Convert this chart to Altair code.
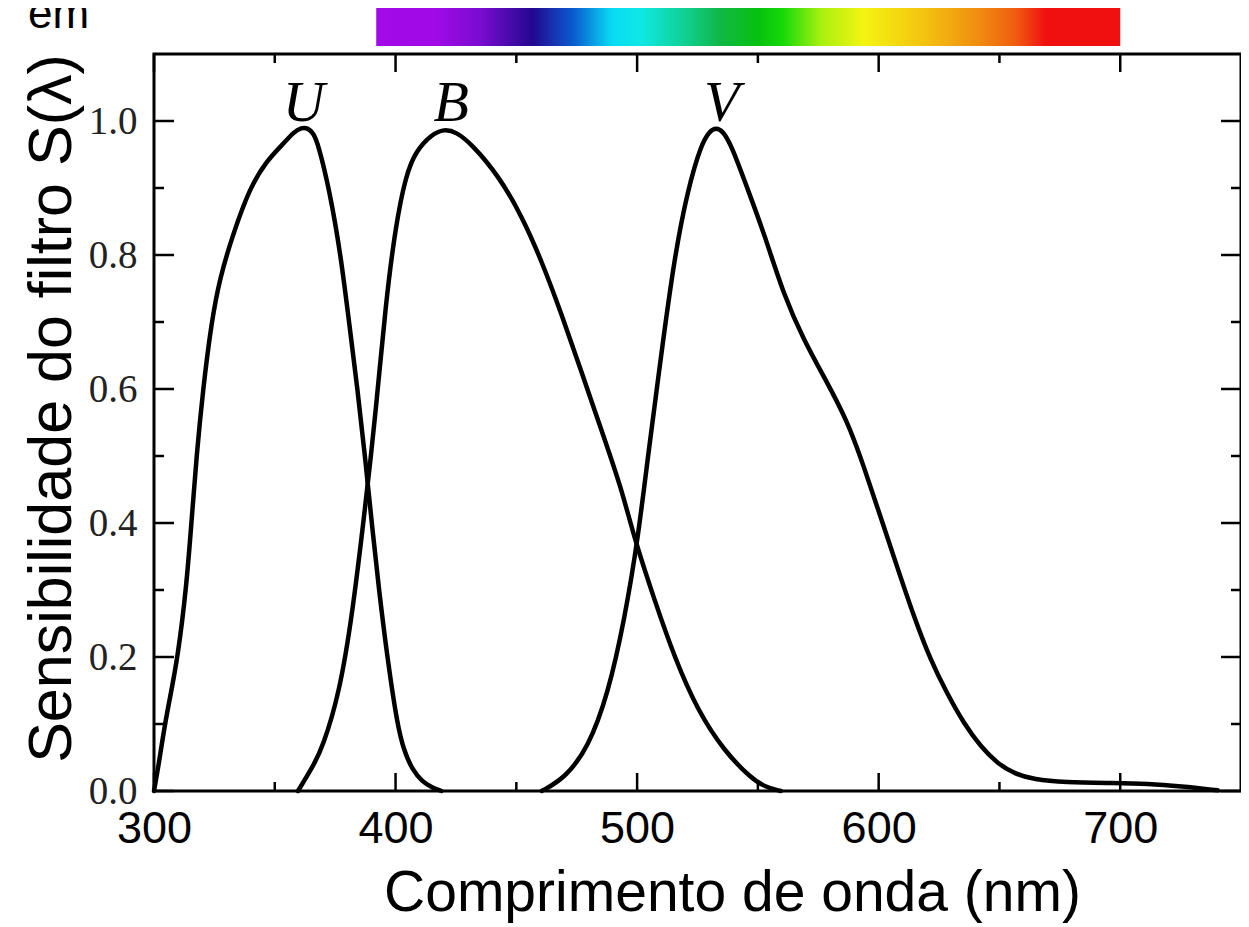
import altair as alt
import pandas as pd

# ---------------- data ----------------
u_nm = [300, 301.8, 304.5, 307.2, 309.8, 313.3, 315.5, 317.6, 320.3, 323.8, 327.2, 332.6,
        339.6, 346.5, 353.3, 358, 361, 363.5, 366, 368, 372.6, 377.4, 380.8, 384.3, 387.4, 390.2,
        393.2, 396.6, 400.7, 403.5, 406.9, 411, 415.2, 419]
u_s = [0.0, 0.036, 0.1, 0.15, 0.2, 0.3, 0.4, 0.5, 0.6, 0.7, 0.765, 0.83,
       0.9, 0.94, 0.965, 0.984, 0.99, 0.99, 0.982, 0.965, 0.898, 0.798, 0.698, 0.598, 0.498, 0.398,
       0.298, 0.199, 0.099, 0.06, 0.032, 0.014, 0.005, 0.0]

b_nm = [359.6, 365.7, 369.8, 376.7, 382.2, 387.7, 391.8, 396, 400.1, 404.2, 408.3, 415,
        420, 425, 431.7, 442.7, 452.3, 460.5, 468.8, 477, 485.3, 493.5, 499, 507.2, 515.5,
        525.2, 536.2, 547.2, 553, 559.5]
b_s = [0.0, 0.036, 0.065, 0.145, 0.265, 0.432, 0.565, 0.731, 0.845, 0.918, 0.955, 0.98,
       0.988, 0.984, 0.965, 0.918, 0.858, 0.791, 0.711, 0.625, 0.538, 0.452, 0.375, 0.285, 0.199,
       0.119, 0.059, 0.019, 0.006, 0.0]

v_nm = [460.5, 470.1, 479.8, 488, 494.9, 500.4, 504.5, 510, 515.5, 521, 526.5, 530, 532.7,
        535.5, 538.9, 545.8, 552.7, 560.9, 569.2, 577.4, 587, 593.9, 600.8, 607.7, 614.6, 621.5,
        628.4, 635.4, 642.3, 649.2, 656.1, 664.3, 676.8, 697.5, 711.3, 725.2, 740.4]
v_s = [0.0, 0.019, 0.065, 0.145, 0.258, 0.378, 0.5, 0.652, 0.798, 0.898, 0.965, 0.985, 0.99,
       0.985, 0.965, 0.898, 0.831, 0.738, 0.672, 0.618, 0.553, 0.484, 0.409, 0.334, 0.26, 0.195,
       0.145, 0.1, 0.066, 0.041, 0.026, 0.017, 0.013, 0.012, 0.011, 0.007, 0.001]

filter_names = ["U", "B", "V"]
label_nm = [362, 423, 535]
label_s = [1.0, 1.0, 1.0]

x_major = [300, 400, 500, 600, 700]
x_minor = [350, 450, 550, 650]
y_major = [0.0, 0.2, 0.4, 0.6, 0.8, 1.0]
y_minor = [0.1, 0.3, 0.5, 0.7, 0.9]

spectrum_nm = [392, 700]

x_title = "Comprimento de onda (nm)"
y_title = "Sensibilidade do filtro S(λ)"
corner_text = "em"

# ---------------- chart ----------------
W, H = 1087, 737
SANS = "Liberation Sans, Arial, sans-serif"

curves = pd.concat([
    pd.DataFrame({"filtro": "U", "nm": u_nm, "s": u_s}),
    pd.DataFrame({"filtro": "B", "nm": b_nm, "s": b_s}),
    pd.DataFrame({"filtro": "V", "nm": v_nm, "s": v_s}),
], ignore_index=True)

x_scale = alt.Scale(domain=[300, 750], nice=False, zero=False)
y_scale = alt.Scale(domain=[0, 1.1], nice=False, zero=False)

x_axis = alt.Axis(
    values=x_major, format="d", title=x_title, grid=False, domain=False,
    ticks=False, tickSize=0, labelFont=SANS, labelFontSize=45, labelColor="black",
    labelPadding=15, labelFlush=False,
    titleFont=SANS, titleFontSize=57, titleFontWeight="normal", titleColor="black",
    titleX=578, titleY=119, titleAlign="center", titleBaseline="alphabetic")
y_axis = alt.Axis(
    values=y_major, format=".1f", title=y_title, grid=False, domain=False,
    ticks=False, tickSize=0, labelFont="Liberation Serif", labelFontSize=39,
    labelColor="#222", labelPadding=17, labelFlush=False,
    titleFont=SANS, titleFontSize=61, titleFontWeight="normal", titleColor="black",
    titleX=-84, titleY=354, titleAngle=270, titleAlign="center",
    titleBaseline="alphabetic")


def X(field="nm"):
    return alt.X(f"{field}:Q", scale=x_scale, axis=x_axis)


def Y(field="s"):
    return alt.Y(f"{field}:Q", scale=y_scale, axis=y_axis)


lines = alt.Chart(curves).mark_line(
    color="black", strokeWidth=4.5, interpolate="basis", strokeJoin="round", strokeCap="round"
).encode(x=X(), y=Y(), detail="filtro:N")


def tick_layer(vals, side, length):
    base = alt.Chart(pd.DataFrame({"nm": vals, "s": vals})).mark_rule(
        color="black", strokeWidth=2.5)
    if side == "bottom":
        return base.encode(x=X(), y=alt.value(H), y2=alt.value(H - length))
    if side == "top":
        return base.encode(x=X(), y=alt.value(0), y2=alt.value(length))
    if side == "left":
        return base.encode(y=Y(), x=alt.value(0), x2=alt.value(length))
    return base.encode(y=Y(), x=alt.value(W), x2=alt.value(W - length))


ticks = [
    tick_layer(x_major, "bottom", 18), tick_layer(x_minor, "bottom", 9),
    tick_layer(x_major, "top", 18), tick_layer(x_minor, "top", 9),
    tick_layer(y_major, "left", 20), tick_layer(y_minor, "left", 10),
    tick_layer(y_major, "right", 20), tick_layer(y_minor, "right", 10),
]

labels = alt.Chart(pd.DataFrame({"t": filter_names, "nm": label_nm, "s": label_s})).mark_text(
    font="Liberation Serif", fontStyle="italic", fontSize=58, color="black",
    align="center", baseline="alphabetic"
).encode(x=X(), y=Y(), text="t:N")

gradient = alt.LinearGradient(
    gradient="linear", x1=0, x2=1, y1=0, y2=0,
    stops=[
        alt.GradientStop(offset=0.0, color="#a20ae8"),
        alt.GradientStop(offset=0.08, color="#a00ae6"),
        alt.GradientStop(offset=0.14, color="#7a0cd0"),
        alt.GradientStop(offset=0.21, color="#22088f"),
        alt.GradientStop(offset=0.265, color="#0a5cd0"),
        alt.GradientStop(offset=0.317, color="#08dcf4"),
        alt.GradientStop(offset=0.356, color="#10e8e4"),
        alt.GradientStop(offset=0.415, color="#10d092"),
        alt.GradientStop(offset=0.46, color="#10b848"),
        alt.GradientStop(offset=0.512, color="#08c010"),
        alt.GradientStop(offset=0.545, color="#12d808"),
        alt.GradientStop(offset=0.597, color="#a6f010"),
        alt.GradientStop(offset=0.655, color="#f4f412"),
        alt.GradientStop(offset=0.74, color="#f4c010"),
        alt.GradientStop(offset=0.805, color="#f09010"),
        alt.GradientStop(offset=0.857, color="#f06010"),
        alt.GradientStop(offset=0.9, color="#f01010"),
        alt.GradientStop(offset=1.0, color="#f01010"),
    ],
)

spectrum = alt.Chart(pd.DataFrame({"nm": [spectrum_nm[0]], "nm2": [spectrum_nm[1]]})).mark_rect(
    fill=gradient
).encode(x=X(), x2="nm2:Q", y=alt.value(-47), y2=alt.value(-8))

corner = alt.Chart(pd.DataFrame({"t": [corner_text]})).mark_text(
    font=SANS, fontSize=44, color="black", align="left", baseline="alphabetic"
).encode(x=alt.value(-126), y=alt.value(-26), text="t:N")

chart = alt.layer(lines, spectrum, *ticks, labels, corner).properties(
    width=W, height=H,
    autosize=alt.AutoSizeParams(type="none"),
    padding={"left": 146, "top": 46, "right": 0, "bottom": 133},
).configure_view(stroke="black", strokeWidth=3)

chart.save("out.html", embed_options={"renderer": "svg", "actions": False})
